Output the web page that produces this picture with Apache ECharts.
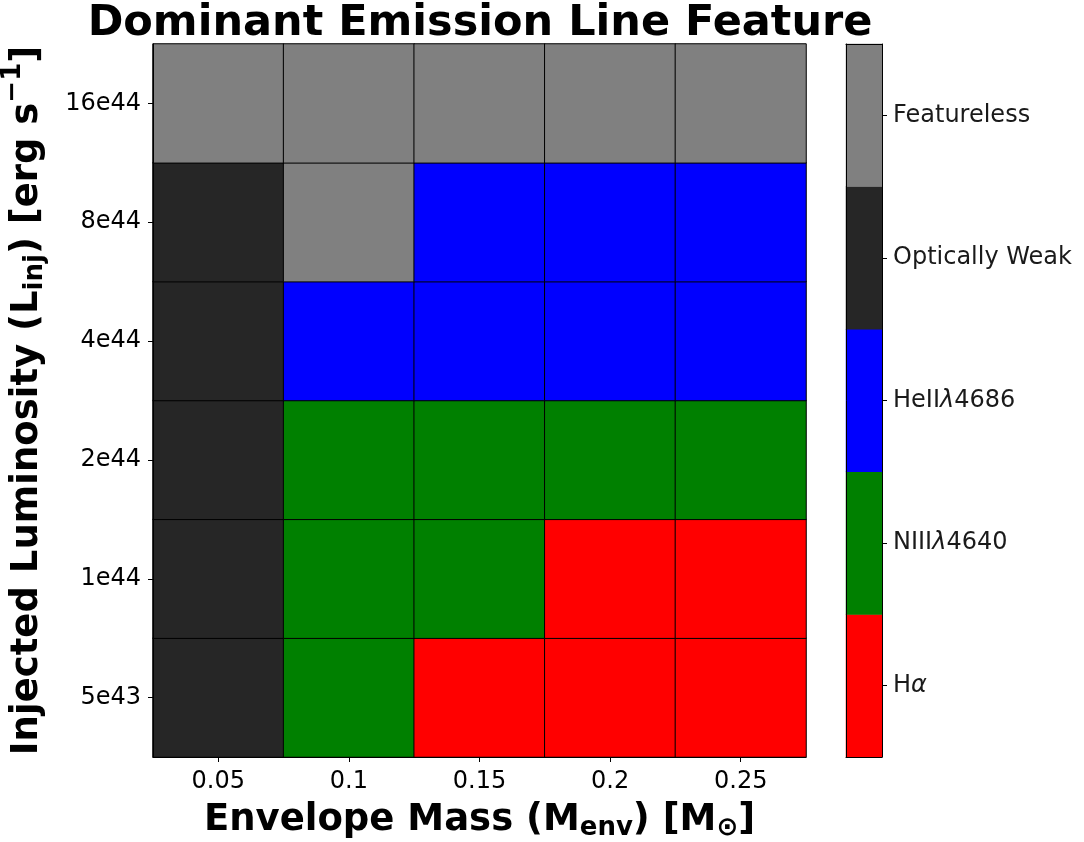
<!DOCTYPE html>
<html>
<head>
<meta charset="utf-8">
<script src="https://cdn.jsdelivr.net/npm/echarts@6/dist/echarts.min.js"></script>
<style>
html,body{margin:0;padding:0;background:#fff;}
#chart{width:1084px;height:842px;}
</style>
</head>
<body>
<div id="chart"></div>
<script>
// ---- data ----
const masses = ['0.05', '0.1', '0.15', '0.2', '0.25'];
const luminosities = ['5e43', '1e44', '2e44', '4e44', '8e44', '16e44'];
// feature codes: 0=Hα, 1=NIIIλ4640, 2=HeIIλ4686, 3=Optically Weak, 4=Featureless
const features = ['Hα', 'NIIIλ4640', 'HeIIλ4686', 'Optically Weak', 'Featureless'];
const featureColors = ['#ff0000', '#008000', '#0000ff', '#262626', '#808080'];
const row_5e43  = [3, 1, 0, 0, 0];
const row_1e44  = [3, 1, 1, 0, 0];
const row_2e44  = [3, 1, 1, 1, 1];
const row_4e44  = [3, 2, 2, 2, 2];
const row_8e44  = [3, 4, 2, 2, 2];
const row_16e44 = [4, 4, 4, 4, 4];
const rows = [row_5e43, row_1e44, row_2e44, row_4e44, row_8e44, row_16e44];

// ---- build ----
const heatData = [];
rows.forEach((r, yi) => r.forEach((v, xi) => heatData.push([xi, yi, v])));
const barData = features.map((f, i) => [0, i, i]);

const FONT = 'DejaVu Sans';
const richLabels = {
  n: {fontFamily: FONT, fontSize: 24, color: '#1a1a1a'},
  i: {fontFamily: FONT, fontSize: 24, color: '#1a1a1a', fontStyle: 'italic'}
};
function fmtFeature(v) {
  switch (v) {
    case 'Hα': return '{n|H}{i|α}';
    case 'NIIIλ4640': return '{n|NIII}{i|λ}{n|4640}';
    case 'HeIIλ4686': return '{n|HeII}{i|λ}{n|4686}';
    default: return '{n|' + v + '}';
  }
}
const nameRich = {
  t: {fontFamily: FONT, fontWeight: 'bold', fontSize: 37, color: '#000', lineHeight: 44, verticalAlign: 'middle'},
  s: {fontFamily: FONT, fontWeight: 'bold', fontSize: 26, color: '#000', lineHeight: 30, verticalAlign: 'middle', padding: [16, 0, 0, 0]},
  p: {fontFamily: FONT, fontWeight: 'bold', fontSize: 26, color: '#000', lineHeight: 30, verticalAlign: 'middle', padding: [0, 0, 28, 0]}
};

const chart = echarts.init(document.getElementById('chart'));
chart.setOption({
  backgroundColor: '#fff',
  animation: false,
  title: {
    text: 'Dominant Emission Line Feature',
    left: 475, top: -3, textAlign: 'center',
    textStyle: {fontFamily: FONT, fontWeight: 'bold', fontSize: 43, color: '#000'}
  },
  grid: [
    {left: 153, right: 278, top: 44, bottom: 85, outerBoundsMode: 'none', containLabel: false},
    {left: 846, width: 36, top: 44, bottom: 85, outerBoundsMode: 'none', containLabel: false}
  ],
  xAxis: [
    {
      type: 'category', data: masses, gridIndex: 0,
      axisLine: {show: true, lineStyle: {color: '#000', width: 1}},
      axisTick: {show: true, alignWithLabel: true, length: 5, lineStyle: {color: '#000'}},
      axisLabel: {fontFamily: FONT, fontSize: 24, color: '#000', margin: 13},
      splitLine: {show: false},
      name: '{t|Envelope Mass (M}{s|env}{t|) [M}{s|⊙}{t|]}',
      nameLocation: 'middle', nameGap: 41,
      nameTextStyle: {rich: nameRich},
      z: 10
    },
    {
      type: 'category', data: ['c'], gridIndex: 1,
      axisLine: {show: true, lineStyle: {color: '#000', width: 1}},
      axisTick: {show: false}, axisLabel: {show: false}, splitLine: {show: false}, z: 10
    },
    {
      type: 'category', data: ['c'], gridIndex: 1, position: 'top',
      axisLine: {show: true, lineStyle: {color: '#000', width: 1}},
      axisTick: {show: false}, axisLabel: {show: false}, splitLine: {show: false}, z: 10
    }
  ],
  yAxis: [
    {
      type: 'category', data: luminosities, gridIndex: 0,
      axisLine: {show: true, lineStyle: {color: '#000', width: 1}},
      axisTick: {show: true, alignWithLabel: true, length: 5, lineStyle: {color: '#000'}},
      axisLabel: {fontFamily: FONT, fontSize: 24, color: '#000', margin: 12},
      splitLine: {show: false},
      name: '{t|Injected Luminosity (L}{s|inj}{t|) [erg s}{p|−1}{t|]}',
      nameLocation: 'middle', nameGap: 100, nameRotate: 90,
      nameTextStyle: {rich: nameRich},
      z: 10
    },
    {
      type: 'category', data: features, gridIndex: 1, position: 'right',
      axisLine: {show: true, lineStyle: {color: '#000', width: 1}},
      axisTick: {show: true, alignWithLabel: true, length: 5, lineStyle: {color: '#000'}},
      axisLabel: {margin: 11, formatter: fmtFeature, rich: richLabels},
      splitLine: {show: false}, z: 10
    },
    {
      type: 'category', data: features, gridIndex: 1, position: 'left',
      axisLine: {show: true, lineStyle: {color: '#000', width: 1}},
      axisTick: {show: false}, axisLabel: {show: false}, splitLine: {show: false}, z: 10
    }
  ],
  visualMap: {
    show: false, type: 'piecewise', dimension: 2, seriesIndex: [0, 1],
    pieces: features.map((f, i) => ({value: i, color: featureColors[i]}))
  },
  series: [
    {
      type: 'heatmap', xAxisIndex: 0, yAxisIndex: 0, data: heatData,
      itemStyle: {borderColor: '#000', borderWidth: 1},
      emphasis: {disabled: true}
    },
    {
      type: 'heatmap', xAxisIndex: 1, yAxisIndex: 1, data: barData,
      itemStyle: {borderWidth: 0},
      emphasis: {disabled: true}
    }
  ]
});
</script>
</body>
</html>
